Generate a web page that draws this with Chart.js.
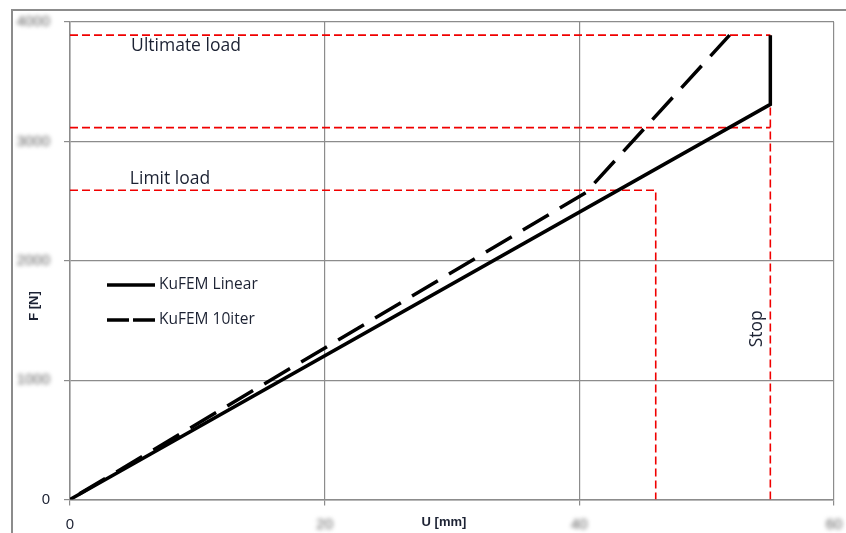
<!DOCTYPE html>
<html>
<head>
<meta charset="utf-8">
<script src="https://cdn.jsdelivr.net/npm/chart.js@4.4.1/dist/chart.umd.min.js"></script>
<style>
  html, body { margin: 0; padding: 0; background: #ffffff; }
  canvas { display: block; }
</style>
</head>
<body>
<canvas id="chart" width="846" height="533"></canvas>
<script>
// Load–displacement curves, U [mm] vs F [N]
const uLinear = [0, 55, 55];
const fLinear = [0, 3310, 3890];
const uIter = [0, 40.5, 51.8];
const fIter = [0, 2570, 3890];

// Reference load levels and the stop displacement
const ultimateLoad = 3890;
const designLoad = 3115;
const limitLoad = 2590;
const limitDisp = 46;
const stopDisp = 55;

const xTicks = [0, 20, 40, 60];
const yTicks = [0, 1000, 2000, 3000, 4000];

const seriesNames = ['KuFEM Linear', 'KuFEM 10iter'];
const annotationTexts = { ultimate: 'Ultimate load', limit: 'Limit load', stop: 'Stop' };
const axisTitles = { x: 'U [mm]', y: 'F [N]' };

const FONT = '"Liberation Sans", Arial, sans-serif';
const LABEL_FONT = '"Open Sans", "Liberation Sans", sans-serif';
const TEXT = '#1c2233';

const pts = (xs, ys) => xs.map((x, i) => ({ x: x, y: ys[i] }));

const redStyle = {
  borderColor: '#f00000', borderWidth: 1.6, borderDash: [8, 4],
  pointRadius: 0, showLine: true, fill: false, tension: 0, order: 5
};

const datasets = [
  Object.assign({ label: 'ultimate', data: pts([0, stopDisp], [ultimateLoad, ultimateLoad]) }, redStyle),
  Object.assign({ label: 'design', data: pts([0, stopDisp], [designLoad, designLoad]) }, redStyle),
  Object.assign({ label: 'limit', data: pts([0, limitDisp, limitDisp], [limitLoad, limitLoad, 0]) }, redStyle),
  Object.assign({ label: 'stop', data: pts([stopDisp, stopDisp], [0, ultimateLoad]) }, redStyle),
  {
    label: seriesNames[1], data: pts(uIter, fIter),
    borderColor: '#000000', borderWidth: 3.5, borderDash: [30, 13], borderDashOffset: 32,
    pointRadius: 0, showLine: true, fill: false, tension: 0, order: 1
  },
  {
    label: seriesNames[0], data: pts(uLinear, fLinear),
    borderColor: '#000000', borderWidth: 3.5,
    pointRadius: 0, showLine: true, fill: false, tension: 0, order: 0
  }
];

// Tick labels other than zero are drawn softened
function softenTickLabels(scale) {
  if (scale.__softened || !Chart.helpers || !Chart.helpers.renderText) return;
  scale.__softened = true;
  scale.drawLabels = function (chartArea) {
    const ctx = this.ctx;
    const items = this.getLabelItems(chartArea);
    for (const it of items) {
      ctx.save();
      ctx.filter = it.label === '0' ? 'none' : 'blur(2px)';
      Chart.helpers.renderText(ctx, it.label, 0, it.textOffset, it.font, it.options);
      ctx.restore();
    }
  };
}

const decorations = {
  id: 'decorations',
  beforeDraw(chart) {
    const ctx = chart.ctx;
    ctx.save();
    ctx.fillStyle = '#ffffff';
    ctx.fillRect(0, 0, chart.width, chart.height);
    // outer frame
    ctx.strokeStyle = '#8c8c8c';
    ctx.lineWidth = 2;
    ctx.beginPath();
    ctx.moveTo(12, chart.height);
    ctx.lineTo(12, 10);
    ctx.lineTo(chart.width, 10);
    ctx.stroke();
    ctx.restore();
    Object.values(chart.scales).forEach(softenTickLabels);
  },
  afterDraw(chart) {
    const ctx = chart.ctx;
    const xs = chart.scales.x, ys = chart.scales.y;
    ctx.save();
    ctx.fillStyle = TEXT;
    ctx.textBaseline = 'middle';

    // load level labels
    ctx.font = '17.5px ' + LABEL_FONT;
    ctx.textAlign = 'left';
    ctx.fillText(annotationTexts.ultimate, xs.getPixelForValue(4.8), ys.getPixelForValue(ultimateLoad) + 11);
    ctx.fillText(annotationTexts.limit, xs.getPixelForValue(4.7), ys.getPixelForValue(limitLoad) - 11);

    // stop label
    ctx.save();
    ctx.translate(xs.getPixelForValue(stopDisp) - 13, ys.getPixelForValue(1430));
    ctx.rotate(-Math.PI / 2);
    ctx.textAlign = 'center';
    ctx.fillText(annotationTexts.stop, 0, 0);
    ctx.restore();

    // axis titles
    ctx.font = 'bold 13px ' + FONT;
    ctx.textAlign = 'center';
    ctx.fillText(axisTitles.x, 444, 522);
    ctx.save();
    ctx.translate(34, 306);
    ctx.rotate(-Math.PI / 2);
    ctx.fillText(axisTitles.y, 0, 0);
    ctx.restore();

    // legend
    const lx0 = 107, lx1 = 155, tx = 159;
    const rows = [285, 320];
    ctx.font = '15.5px ' + LABEL_FONT;
    ctx.textAlign = 'left';
    ctx.strokeStyle = '#000000';
    ctx.lineWidth = 3.5;
    ctx.beginPath();
    ctx.moveTo(lx0, rows[0]); ctx.lineTo(lx1, rows[0]);
    ctx.stroke();
    ctx.setLineDash([22, 4]);
    ctx.beginPath();
    ctx.moveTo(lx0, rows[1]); ctx.lineTo(lx1, rows[1]);
    ctx.stroke();
    ctx.setLineDash([]);
    ctx.fillText(seriesNames[0], tx, rows[0]);
    ctx.fillText(seriesNames[1], tx, rows[1]);
    ctx.restore();
  }
};

new Chart(document.getElementById('chart'), {
  type: 'scatter',
  data: { datasets: datasets },
  options: {
    responsive: false,
    animation: false,
    layout: { padding: { left: 0, right: 12, top: 22, bottom: 0 } },
    plugins: { legend: { display: false }, tooltip: { enabled: false } },
    scales: {
      x: {
        type: 'linear', min: 0, max: 60,
        afterFit(scale) { scale.height = 33.5; scale.paddingLeft = 0; scale.paddingRight = 0; },
        afterBuildTicks(scale) { scale.ticks = xTicks.map(v => ({ value: v })); },
        grid: { color: '#8c8c8c', lineWidth: 1.2, tickLength: 6, drawTicks: true },
        border: { color: '#8c8c8c', width: 1.5 },
        ticks: {
          padding: 10, font: { family: FONT, size: 15 },
          color: c => (c.tick && c.tick.value === 0) ? TEXT : '#5e5e5e',
          callback: v => String(v), maxRotation: 0
        }
      },
      y: {
        type: 'linear', min: 0, max: 4000,
        afterFit(scale) { scale.width = 70; scale.paddingTop = 0; scale.paddingBottom = 0; },
        afterBuildTicks(scale) { scale.ticks = yTicks.map(v => ({ value: v })); },
        grid: { color: '#8c8c8c', lineWidth: 1.2, tickLength: 6, drawTicks: true },
        border: { color: '#8c8c8c', width: 1.5 },
        ticks: {
          padding: 14, font: { family: FONT, size: 15 },
          color: c => (c.tick && c.tick.value === 0) ? TEXT : '#5e5e5e',
          callback: v => String(v)
        }
      }
    }
  },
  plugins: [decorations]
});
</script>
</body>
</html>
